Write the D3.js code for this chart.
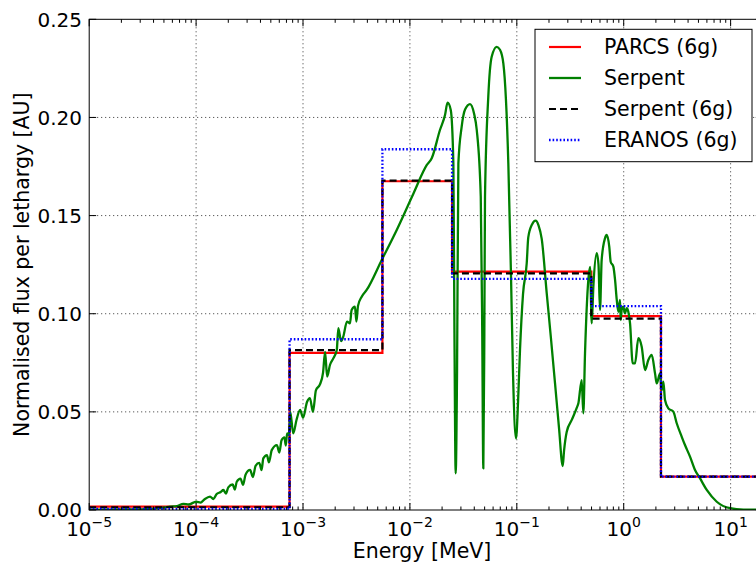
<!DOCTYPE html>
<html><head><meta charset="utf-8">
<script src="https://cdn.jsdelivr.net/npm/d3@7"></script>
<style>body{margin:0;background:#fff;} text{font-family:"DejaVu Sans",sans-serif;fill:#000;}</style>
</head><body><svg id="c" width="756" height="566"></svg>
<script>
// ---- data ----
const groupBounds = [1e-5, 7.485e-4, 5.531e-3, 2.479e-2, 0.4979, 2.231, 20];
const parcs6g   = [0.0017, 0.0801, 0.1675, 0.1214, 0.0988, 0.0170];
const serpent6g = [0.0014, 0.0815, 0.1678, 0.1206, 0.0975, 0.0170];
const eranos6g  = [0.0005, 0.0870, 0.1838, 0.1178, 0.1039, 0.0170];
const serpentE = [1.0e-5,2.4e-5,3.7e-5,5.0e-5,5.7e-5,6.6e-5,7.6e-5,8.5e-5,1.0e-4,1.1e-4,1.2e-4,1.35e-4,1.45e-4,1.55e-4,1.7e-4,1.8e-4,1.9e-4,2.0e-4,2.2e-4,2.3e-4,2.4e-4,2.6e-4,2.75e-4,2.9e-4,3.2e-4,3.4e-4,3.6e-4,3.9e-4,4.1e-4,4.25e-4,4.6e-4,4.8e-4,5.1e-4,5.7e-4,6.0e-4,6.3e-4,6.7e-4,6.9e-4,7.1e-4,7.4e-4,
7.6e-4,8.1e-4,8.7e-4,9.4e-4,1.0e-3,1.09e-3,1.16e-3,1.24e-3,1.32e-3,1.44e-3,1.54e-3,1.61e-3,1.68e-3,1.79e-3,1.91e-3,2.07e-3,2.14e-3,2.27e-3,2.38e-3,2.58e-3,2.75e-3,2.85e-3,3.06e-3,3.16e-3,3.27e-3,3.54e-3,3.94e-3,5.45e-3,7.53e-3,
1.08e-2,1.44e-2,1.60e-2,1.91e-2,2.13e-2,2.25e-2,2.41e-2,2.55e-2,2.61e-2,2.68e-2,2.76e-2,2.84e-2,3.05e-2,3.28e-2,3.65e-2,3.98e-2,4.22e-2,4.60e-2,4.75e-2,4.86e-2,4.97e-2,5.04e-2,5.41e-2,5.82e-2,6.48e-2,6.96e-2,7.48e-2,8.33e-2,8.82e-2,9.21e-2,9.83e-2,
0.1027,0.1071,0.1143,0.1238,0.128,0.1388,0.150,0.1596,0.171,0.1905,0.209,0.2277,0.248,0.2688,0.2764,0.2931,0.3266,0.3635,0.3767,0.4046,0.419,0.4345,0.4667,0.484,0.502,0.520,0.559,0.581,0.600,0.622,0.668,0.693,0.733,0.755,0.800,0.830,0.861,0.891,0.923,0.937,0.957,0.991,
1.028,1.066,1.104,1.146,1.214,1.276,1.370,1.473,1.582,1.699,1.828,1.963,2.036,2.187,2.268,2.350,2.434,2.614,2.911,3.132,3.490,3.742,4.170,4.645,5.177,5.98,7.42,9.89,13.2,20];
const serpentFlux = [0.0002,0.0003,0.0006,0.0012,0.0017,0.0020,0.0031,0.0028,0.0042,0.0038,0.0055,0.0068,0.0056,0.0080,0.0092,0.0102,0.0084,0.0115,0.0130,0.0104,0.0144,0.0160,0.0128,0.0180,0.0204,0.0168,0.0225,0.0240,0.0203,0.0263,0.0280,0.0243,0.0305,0.0331,0.0293,0.0355,0.0370,0.0328,0.0390,0.0382,
0.0500,0.0390,0.0460,0.0510,0.0470,0.0550,0.0570,0.0500,0.0610,0.0640,0.0700,0.0806,0.0680,0.0740,0.0770,0.0815,0.0927,0.0860,0.0883,0.0960,0.0951,0.1019,0.1036,0.0960,0.1040,0.1087,0.1121,0.1274,0.1427,
0.1613,0.1758,0.1792,0.1936,0.2012,0.2075,0.2038,0.1766,0.0900,0.0187,0.0700,0.1766,0.1953,0.2040,0.2068,0.2020,0.1936,0.1596,0.0900,0.0212,0.0900,0.1596,0.2106,0.2309,0.2360,0.2345,0.2276,0.1766,0.1200,0.0700,0.0365,
0.0550,0.0815,0.1100,0.1257,0.1389,0.1455,0.1474,0.1450,0.1381,0.1104,0.0870,0.0646,0.0420,0.0224,0.0300,0.0399,0.0459,0.0520,0.0544,0.0662,0.0493,0.0798,0.1172,0.1238,0.0951,0.1138,0.1308,0.1250,0.1019,0.1274,0.1384,0.1401,0.1341,0.1265,0.1240,0.1172,0.1070,0.1010,0.1070,0.0968,0.1019,0.1036,
0.1002,0.1028,0.1010,0.0951,0.0747,0.0747,0.0875,0.0832,0.0713,0.0764,0.0790,0.0696,0.0645,0.0696,0.0611,0.0654,0.0560,0.0518,0.0501,0.0442,0.0373,0.0331,0.0272,0.0204,0.0161,0.0102,0.0042,0.0009,0.0002,0.0001];
const xTicks = [1e-5,1e-4,1e-3,1e-2,1e-1,1,10];
const xTickExp = ["\u22125","\u22124","\u22123","\u22122","\u22121","0","1"];
const yTicks = [0,0.05,0.10,0.15,0.20,0.25];
const yTickLabels = ["0.00","0.05","0.10","0.15","0.20","0.25"];
const seriesNames = ["PARCS (6g)","Serpent","Serpent (6g)","ERANOS (6g)"];

// ---- layout ----
const L = 89.2, R = 762.8, T = 19.3, B = 510;
const svg = d3.select("#c");
const x = d3.scaleLog().domain([1e-5, 20]).range([L, R]);
const y = d3.scaleLinear().domain([0, 0.25]).range([B, T]);

svg.append("defs").append("clipPath").attr("id","clip")
  .append("rect").attr("x",L).attr("y",T).attr("width",R-L).attr("height",B-T);

// grid
const grid = svg.append("g").attr("stroke","#000").attr("stroke-width",0.8).attr("stroke-dasharray","1,3");
xTicks.slice(1).forEach(t => grid.append("line").attr("x1",x(t)).attr("x2",x(t)).attr("y1",T).attr("y2",B));
yTicks.slice(1,-1).forEach(t => grid.append("line").attr("x1",L).attr("x2",R).attr("y1",y(t)).attr("y2",y(t)));

// series
const plot = svg.append("g").attr("clip-path","url(#clip)");
const stepPts = v => groupBounds.map((b,i) => [b, v[Math.min(i, v.length-1)]]);
const stepLine = d3.line().x(d=>x(d[0])).y(d=>y(d[1])).curve(d3.curveStepAfter);
const curveLine = d3.line().x(d=>x(d[0])).y(d=>y(d[1])).curve(d3.curveMonotoneX);
const serpentPts = serpentE.map((e,i)=>[e, serpentFlux[i]]);

const styles = [
  {color:"#ff0000", dash:null, w:2.2},
  {color:"#008000", dash:null, w:2.3},
  {color:"#000000", dash:"7,4", w:2.2},
  {color:"#0000ff", dash:"1.6,2", w:2.3}
];
plot.append("path").attr("d", stepLine(stepPts(parcs6g))).attr("fill","none")
  .attr("stroke",styles[0].color).attr("stroke-width",styles[0].w);
plot.append("path").attr("d", curveLine(serpentPts)).attr("fill","none")
  .attr("stroke",styles[1].color).attr("stroke-width",styles[1].w).attr("stroke-linejoin","round");
plot.append("path").attr("d", stepLine(stepPts(serpent6g))).attr("fill","none")
  .attr("stroke",styles[2].color).attr("stroke-width",styles[2].w).attr("stroke-dasharray",styles[2].dash);
plot.append("path").attr("d", stepLine(stepPts(eranos6g))).attr("fill","none")
  .attr("stroke",styles[3].color).attr("stroke-width",styles[3].w).attr("stroke-dasharray",styles[3].dash);

// spines
svg.append("rect").attr("x",L).attr("y",T).attr("width",R-L).attr("height",B-T)
  .attr("fill","none").attr("stroke","#000").attr("stroke-width",1);

// ticks
const tk = svg.append("g").attr("stroke","#000").attr("stroke-width",1);
const majLen = 7, minLen = 3.5;
xTicks.forEach(t => {
  tk.append("line").attr("x1",x(t)).attr("x2",x(t)).attr("y1",B).attr("y2",B-majLen);
  tk.append("line").attr("x1",x(t)).attr("x2",x(t)).attr("y1",T).attr("y2",T+majLen);
  for (let k=2;k<=9;k++){ const m=t*k; if (m<=20){
    tk.append("line").attr("x1",x(m)).attr("x2",x(m)).attr("y1",B).attr("y2",B-minLen);
    tk.append("line").attr("x1",x(m)).attr("x2",x(m)).attr("y1",T).attr("y2",T+minLen);
  }}
});
yTicks.forEach(t => {
  tk.append("line").attr("x1",L).attr("x2",L+majLen).attr("y1",y(t)).attr("y2",y(t));
  tk.append("line").attr("x1",R).attr("x2",R-majLen).attr("y1",y(t)).attr("y2",y(t));
});

// tick labels
xTicks.forEach((t,i) => {
  const tx = svg.append("text").attr("x",x(t)).attr("y",536).attr("text-anchor","middle").attr("font-size",20);
  tx.append("tspan").text("10");
  tx.append("tspan").attr("dy",-9).attr("font-size",14).text(xTickExp[i]);
});
yTicks.forEach((t,i) => {
  svg.append("text").attr("x",82).attr("y",y(t)).attr("dy","0.36em").attr("text-anchor","end")
    .attr("font-size",20).text(yTickLabels[i]);
});

// axis labels
svg.append("text").attr("x",(L+R)/2 - 4).attr("y",558).attr("text-anchor","middle").attr("font-size",20.5).text("Energy [MeV]");
svg.append("text").attr("transform",`translate(29,${(T+B)/2}) rotate(-90)`).attr("text-anchor","middle")
  .attr("font-size",20.5).text("Normalised flux per lethargy [AU]");

// legend
const lg = svg.append("g");
lg.append("rect").attr("x",535).attr("y",29.3).attr("width",217).attr("height",132.4)
  .attr("fill","#fff").attr("stroke","#000").attr("stroke-width",1);
const rowY = [47, 78, 109, 140];
seriesNames.forEach((n,i) => {
  const ln = lg.append("line").attr("x1",549).attr("x2",581).attr("y1",rowY[i]).attr("y2",rowY[i])
    .attr("stroke",styles[i].color).attr("stroke-width",styles[i].w);
  if (styles[i].dash) ln.attr("stroke-dasharray",styles[i].dash);
  lg.append("text").attr("x",604).attr("y",rowY[i]).attr("dy","0.36em").attr("font-size",20.5).text(n);
});
</script></body></html>
